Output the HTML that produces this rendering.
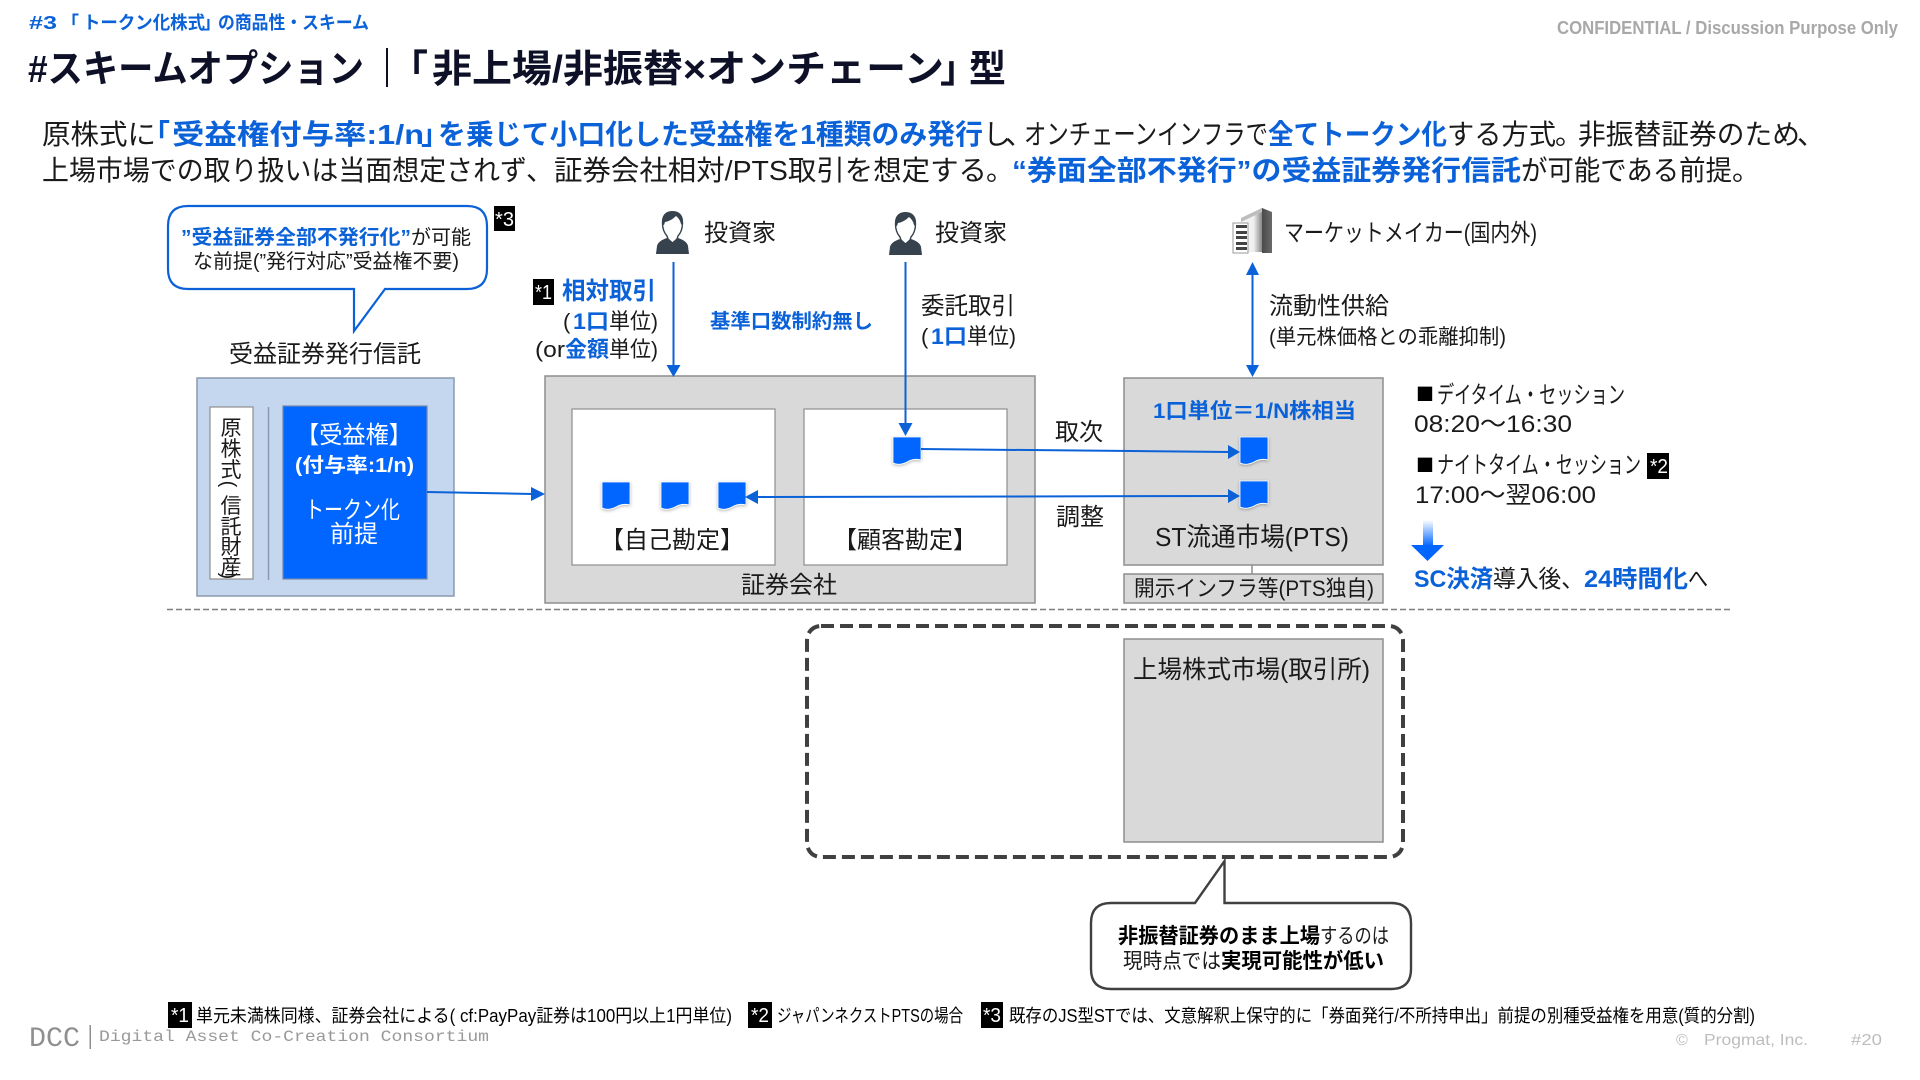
<!DOCTYPE html>
<html lang="ja"><head><meta charset="utf-8"><title>スキームオプション</title>
<style>
html,body{margin:0;padding:0;background:#fff;width:1920px;height:1080px;overflow:hidden}
svg{display:block}
text{font-family:"Liberation Sans","Noto Sans CJK JP",sans-serif;fill:#1a1a1a}
.b{font-weight:700;fill:#0b62d8}
.k{font-weight:700;fill:#000}
.t{font-weight:700;fill:#0d1026;font-size:38px}
.w{fill:#fff}
.n{fill:#fff;font-size:20px}
.q{font-family:"Noto Sans CJK JP",sans-serif;font-size:18px;fill:#000}
.box{fill:#d9d9d9;stroke:#8e8e8e;stroke-width:1.5}
.wb{fill:#fff;stroke:#8e8e8e;stroke-width:1.2}
.l{stroke:#0b62d8;stroke-width:2;fill:none}
.h{fill:#0b62d8}
</style></head><body>
<svg xmlns="http://www.w3.org/2000/svg" width="1920" height="1080" viewBox="0 0 1920 1080">
<defs>
<linearGradient id="ga" x1="0" y1="0" x2="0" y2="1"><stop offset="0" stop-color="#fff"/><stop offset="1" stop-color="#0066ff"/></linearGradient>
<linearGradient id="gb" x1="0" y1="0" x2="1" y2="0"><stop offset="0" stop-color="#f4f4f4"/><stop offset=".6" stop-color="#f0f0f0"/><stop offset="1" stop-color="#888"/></linearGradient>
<linearGradient id="gc" x1="0" y1="0" x2="1" y2="0"><stop offset="0" stop-color="#4a4a4a"/><stop offset="1" stop-color="#6a6a6a"/></linearGradient>
<filter id="sh" x="-30%" y="-30%" width="160%" height="160%"><feDropShadow dx="0" dy="1" stdDeviation="1.5" flood-color="#000" flood-opacity=".3"/></filter>
<symbol id="tk" viewBox="0 0 28 28" width="28" height="28" overflow="visible"><path d="M0 0H28V23Q21 21 14 25Q6 29 0 26Z" fill="#0066ff" stroke="#fff" stroke-width=".8" filter="url(#sh)"/></symbol>
<symbol id="pp" viewBox="0 0 33 44" width="33" height="44"><path d="M0 44L1 36Q2 31 11 28L16.500 33L22 28Q31 31 32 36L33 44Z" fill="#36424e"/><path d="M16.500 2Q6.500 2 6.500 13Q6.500 21 11 26L12 29L16.500 33L21 29L22 26Q26.500 21 26.500 13Q26.500 2 16.500 2Z" fill="#fff" stroke="#36424e" stroke-width="1.4"/><path d="M16.500 1Q6 1 6 13Q7 15 8 15L9 12Q15 11 20 6Q24 9 25 14L26 15Q27 14 27 13Q27 1 16.500 1Z" fill="#36424e"/></symbol>
</defs>

<text x="29" y="29" class="b" font-size="18" textLength="28" lengthAdjust="spacingAndGlyphs">#3</text>
<text x="61" y="29" class="b" font-size="18">「</text>
<text x="83" y="29" class="b" font-size="18" textLength="122" lengthAdjust="spacingAndGlyphs">トークン化株式</text>
<text x="203" y="29" class="b" font-size="18">」</text>
<text x="218" y="29" class="b" font-size="18" textLength="151" lengthAdjust="spacingAndGlyphs">の商品性・スキーム</text>
<text x="1557" y="34" font-size="18" style="fill:#a8a8a8;font-weight:700" textLength="341" lengthAdjust="spacingAndGlyphs">CONFIDENTIAL / Discussion Purpose Only</text>

<text x="28" y="82" class="t" textLength="336" lengthAdjust="spacingAndGlyphs">#スキームオプション</text>
<rect x="386" y="48" width="2" height="39" fill="#0d1026"/>
<text x="390" y="82" class="t">「</text>
<text x="432" y="82" class="t" textLength="512" lengthAdjust="spacingAndGlyphs">非上場/非振替×オンチェーン</text>
<text x="940" y="82" class="t">」</text>
<text x="969" y="82" class="t" textLength="37" lengthAdjust="spacingAndGlyphs">型</text>

<g font-size="28">
<text x="42" y="144" textLength="114" lengthAdjust="spacingAndGlyphs">原株式に</text>
<text x="142" y="144" class="b">「</text>
<text x="172" y="144" class="b" textLength="252" lengthAdjust="spacingAndGlyphs">受益権付与率:1/n</text>
<text x="421" y="144" class="b">」</text>
<text x="438" y="144" class="b" textLength="545" lengthAdjust="spacingAndGlyphs">を乗じて小口化した受益権を1種類のみ発行</text>
<text x="983" y="144">し</text>
<text x="1005" y="144">、</text>
<text x="1024" y="144" textLength="244" lengthAdjust="spacingAndGlyphs">オンチェーンインフラで</text>
<text x="1268" y="144" class="b" textLength="179" lengthAdjust="spacingAndGlyphs">全てトークン化</text>
<text x="1447" y="144" textLength="109" lengthAdjust="spacingAndGlyphs">する方式</text>
<text x="1555" y="144">。</text>
<text x="1578" y="144" textLength="222" lengthAdjust="spacingAndGlyphs">非振替証券のため</text>
<text x="1797" y="144">、</text>
<text x="42" y="180" textLength="485" lengthAdjust="spacingAndGlyphs">上場市場での取り扱いは当面想定されず</text>
<text x="526" y="180">、</text>
<text x="554" y="180" textLength="433" lengthAdjust="spacingAndGlyphs">証券会社相対/PTS取引を想定する</text>
<text x="986" y="180">。</text>
<text x="1012" y="180" class="b" textLength="509" lengthAdjust="spacingAndGlyphs">“券面全部不発行”の受益証券発行信託</text>
<text x="1521" y="180" textLength="211" lengthAdjust="spacingAndGlyphs">が可能である前提</text>
<text x="1732" y="180">。</text>
</g>

<!-- callout 1 -->
<path d="M188 206H467Q487 206 487 226V269Q487 289 467 289H385L354 331V289H188Q168 289 168 269V226Q168 206 188 206Z" fill="#fff" stroke="#0b62d8" stroke-width="2.2"/>
<text x="181" y="244" class="b" font-size="20" textLength="230" lengthAdjust="spacingAndGlyphs">”受益証券全部不発行化”</text>
<text x="411" y="244" font-size="20" textLength="60" lengthAdjust="spacingAndGlyphs">が可能</text>
<text x="193" y="268" font-size="20" textLength="266" lengthAdjust="spacingAndGlyphs">な前提(”発行対応”受益権不要)</text>
<rect x="494" y="206" width="21" height="25" fill="#000"/><text x="495" y="226" class="n" textLength="19" lengthAdjust="spacingAndGlyphs">*3</text>

<!-- persons -->
<use href="#pp" x="656" y="210"/><use href="#pp" x="889" y="211"/>
<text x="704" y="241" font-size="24">投資家</text>
<text x="935" y="241" font-size="24">投資家</text>
<!-- building -->
<path d="M1241 218L1262 208V252H1241Z" fill="url(#gb)"/>
<path d="M1241 218L1262 208V212L1241 222Z" fill="#bdbdbd"/>
<path d="M1262 208L1272 212V253H1262Z" fill="url(#gc)"/>
<rect x="1233" y="223" width="15" height="30" fill="#fff" stroke="#999" stroke-width="1"/>
<g fill="#444"><rect x="1236" y="225" width="11" height="3"/><rect x="1236" y="231" width="11" height="3"/><rect x="1236" y="236" width="11" height="3"/><rect x="1236" y="242" width="11" height="3"/><rect x="1236" y="247" width="11" height="3"/></g>
<text x="1284" y="241" font-size="24" textLength="253" lengthAdjust="spacingAndGlyphs">マーケットメイカー(国内外)</text>

<!-- labels upper -->
<rect x="533" y="279" width="21" height="26" fill="#000"/><text x="535" y="299" class="n" textLength="17" lengthAdjust="spacingAndGlyphs">*1</text>
<text x="562" y="299" class="b" font-size="24" textLength="94" lengthAdjust="spacingAndGlyphs">相対取引</text>
<text x="563" y="329" font-size="22">(</text><text x="573" y="329" class="b" font-size="22" textLength="36" lengthAdjust="spacingAndGlyphs">1口</text><text x="609" y="329" font-size="22" textLength="49" lengthAdjust="spacingAndGlyphs">単位)</text>
<text x="535" y="357" font-size="22" textLength="30" lengthAdjust="spacingAndGlyphs">(or</text><text x="565" y="357" class="b" font-size="22" textLength="44" lengthAdjust="spacingAndGlyphs">金額</text><text x="609" y="357" font-size="22" textLength="49" lengthAdjust="spacingAndGlyphs">単位)</text>
<text x="710" y="328" class="b" font-size="20" textLength="163" lengthAdjust="spacingAndGlyphs">基準口数制約無し</text>
<text x="921" y="314" font-size="24" textLength="94" lengthAdjust="spacingAndGlyphs">委託取引</text>
<text x="921" y="344" font-size="22">(</text><text x="931" y="344" class="b" font-size="22" textLength="36" lengthAdjust="spacingAndGlyphs">1口</text><text x="967" y="344" font-size="22" textLength="49" lengthAdjust="spacingAndGlyphs">単位)</text>
<text x="1269" y="314" font-size="24" textLength="120" lengthAdjust="spacingAndGlyphs">流動性供給</text>
<text x="1269" y="344" font-size="21" textLength="237" lengthAdjust="spacingAndGlyphs">(単元株価格との乖離抑制)</text>
<text x="229" y="362" font-size="24" textLength="192" lengthAdjust="spacingAndGlyphs">受益証券発行信託</text>

<!-- trust box -->
<rect x="197" y="378" width="257" height="218" fill="#c5d6ef" stroke="#8a99ad" stroke-width="1.5"/>
<rect x="210" y="407" width="43" height="172" fill="#fff" stroke="#8e8e8e" stroke-width="1.2"/>
<line x1="268.500" y1="407" x2="268.500" y2="580" stroke="#8a99ad" stroke-width="1.5"/>
<rect x="283" y="406" width="144" height="173" fill="#0066ff" stroke="#7288aa" stroke-width="1.2"/>
<g font-size="21" text-anchor="middle">
<text x="231" y="435">原</text><text x="231" y="456">株</text><text x="231" y="477">式</text>
<text transform="translate(222,484) rotate(90)" font-size="20" x="0" y="0">(</text>
<text x="231" y="513">信</text><text x="231" y="534">託</text><text x="231" y="554">財</text><text x="231" y="574">産</text>
<text transform="translate(222,576) rotate(90)" font-size="20" x="0" y="0">)</text>
</g>
<text x="296" y="443" class="w" font-size="24" textLength="116" lengthAdjust="spacingAndGlyphs">【受益権】</text>
<text x="295" y="472" class="w" style="font-weight:700" font-size="20" textLength="119" lengthAdjust="spacingAndGlyphs">(付与率:1/n)</text>
<text x="305" y="518" class="w" font-size="24" textLength="95" lengthAdjust="spacingAndGlyphs">トークン化</text>
<text x="330" y="542" class="w" font-size="24" textLength="48" lengthAdjust="spacingAndGlyphs">前提</text>

<!-- securities -->
<rect x="545" y="376" width="490" height="227" class="box"/>
<rect x="572" y="409" width="203" height="156" class="wb"/>
<rect x="804" y="409" width="203" height="156" class="wb"/>
<use href="#tk" x="602" y="482"/><use href="#tk" x="661" y="482"/><use href="#tk" x="718" y="482"/><use href="#tk" x="893" y="437"/>
<text x="600" y="548" font-size="24" textLength="144" lengthAdjust="spacingAndGlyphs">【自己勘定】</text>
<text x="833" y="548" font-size="24" textLength="144" lengthAdjust="spacingAndGlyphs">【顧客勘定】</text>
<text x="741" y="593" font-size="24" textLength="96" lengthAdjust="spacingAndGlyphs">証券会社</text>

<!-- PTS -->
<rect x="1124" y="378" width="259" height="187" class="box"/>
<line x1="1252" y1="565" x2="1252" y2="574" stroke="#8e8e8e" stroke-width="1.5"/>
<rect x="1124" y="574" width="259" height="29" class="box"/>
<text x="1153" y="418" class="b" font-size="21" textLength="203" lengthAdjust="spacingAndGlyphs">1口単位＝1/N株相当</text>
<use href="#tk" x="1240" y="437"/><use href="#tk" x="1240" y="481"/>
<text x="1155" y="546" font-size="26" textLength="194" lengthAdjust="spacingAndGlyphs">ST流通市場(PTS)</text>
<text x="1134" y="596" font-size="22" textLength="240" lengthAdjust="spacingAndGlyphs">開示インフラ等(PTS独自)</text>

<!-- connectors -->
<line x1="673.500" y1="262" x2="673.500" y2="366" class="l"/><path d="M666.500 365H680.500L673.500 377Z" class="h"/>
<line x1="905.500" y1="262" x2="905.500" y2="424" class="l"/><path d="M898.500 423H912.500L905.500 436Z" class="h"/>
<line x1="1252.500" y1="274" x2="1252.500" y2="366" class="l"/><path d="M1246 275H1259L1252.500 262Z" class="h"/><path d="M1246 365H1259L1252.500 377Z" class="h"/>
<line x1="427" y1="492" x2="532" y2="494" class="l"/><path d="M531 487V501L545 494Z" class="h"/>
<line x1="921" y1="449" x2="1228" y2="452" class="l"/><path d="M1228 445V459L1240 452Z" class="h"/>
<line x1="757" y1="497" x2="1228" y2="496" class="l"/><path d="M758 490V504L745 497Z" class="h"/><path d="M1228 489V503L1240 496Z" class="h"/>
<text x="1055" y="440" font-size="24">取次</text>
<text x="1056" y="525" font-size="24">調整</text>

<!-- right -->
<text x="1416" y="401" class="q">■</text>
<text x="1437" y="403" font-size="24" textLength="188" lengthAdjust="spacingAndGlyphs">デイタイム・セッション</text>
<text x="1414" y="432" font-size="24" textLength="158" lengthAdjust="spacingAndGlyphs">08:20～16:30</text>
<text x="1416" y="472" class="q">■</text>
<text x="1437" y="473" font-size="24" textLength="204" lengthAdjust="spacingAndGlyphs">ナイトタイム・セッション</text>
<rect x="1647" y="453" width="22" height="26" fill="#000"/><text x="1650" y="473" class="n" textLength="18" lengthAdjust="spacingAndGlyphs">*2</text>
<text x="1415" y="503" font-size="24" textLength="181" lengthAdjust="spacingAndGlyphs">17:00～翌06:00</text>
<rect x="1423" y="520" width="10" height="26" fill="url(#ga)"/><path d="M1411 545H1444L1427.500 561Z" fill="#0066ff"/>
<text x="1414" y="587" class="b" font-size="24" textLength="79" lengthAdjust="spacingAndGlyphs">SC決済</text>
<text x="1493" y="587" font-size="24" textLength="91" lengthAdjust="spacingAndGlyphs">導入後、</text>
<text x="1584" y="587" class="b" font-size="24" textLength="104" lengthAdjust="spacingAndGlyphs">24時間化</text>
<text x="1688" y="587" font-size="24" textLength="20" lengthAdjust="spacingAndGlyphs">へ</text>

<line x1="167" y1="609.500" x2="1733" y2="609.500" stroke="#7f7f7f" stroke-width="1.5" stroke-dasharray="6 3"/>

<!-- lower -->
<rect x="807" y="626" width="596" height="231" rx="14" fill="#fff" stroke="#404040" stroke-width="4" stroke-dasharray="13 6"/>
<rect x="1124" y="639" width="259" height="203" class="box"/>
<text x="1133" y="678" font-size="25" textLength="237" lengthAdjust="spacingAndGlyphs">上場株式市場(取引所)</text>
<path d="M1111 903H1195L1224.500 861V903H1391Q1411 903 1411 923V969Q1411 989 1391 989H1111Q1091 989 1091 969V923Q1091 903 1111 903Z" fill="#fff" stroke="#404040" stroke-width="2.4"/>
<text x="1118" y="943" class="k" font-size="21" textLength="202" lengthAdjust="spacingAndGlyphs">非振替証券のまま上場</text>
<text x="1320" y="943" font-size="21" textLength="69" lengthAdjust="spacingAndGlyphs">するのは</text>
<text x="1123" y="968" font-size="21" textLength="98" lengthAdjust="spacingAndGlyphs">現時点では</text>
<text x="1221" y="968" class="k" font-size="21" textLength="163" lengthAdjust="spacingAndGlyphs">実現可能性が低い</text>

<!-- footer -->
<rect x="168" y="1002" width="24" height="26" fill="#000"/><text x="171" y="1022" class="n" textLength="18" lengthAdjust="spacingAndGlyphs">*1</text>
<text x="196" y="1022" font-size="18" style="fill:#000" textLength="536" lengthAdjust="spacingAndGlyphs">単元未満株同様、証券会社による( cf:PayPay証券は100円以上1円単位)</text>
<rect x="748" y="1002" width="24" height="26" fill="#000"/><text x="751" y="1022" class="n" textLength="18" lengthAdjust="spacingAndGlyphs">*2</text>
<text x="777" y="1022" font-size="18" style="fill:#000" textLength="186" lengthAdjust="spacingAndGlyphs">ジャパンネクストPTSの場合</text>
<rect x="981" y="1002" width="22" height="26" fill="#000"/><text x="983" y="1022" class="n" textLength="18" lengthAdjust="spacingAndGlyphs">*3</text>
<text x="1009" y="1022" font-size="18" style="fill:#000" textLength="746" lengthAdjust="spacingAndGlyphs">既存のJS型STでは、文意解釈上保守的に「券面発行/不所持申出」前提の別種受益権を用意(質的分割)</text>

<text x="29" y="1046" font-size="28" style="font-family:'Liberation Mono',monospace;fill:#8f8f8f" textLength="51" lengthAdjust="spacingAndGlyphs">DCC</text>
<rect x="89.500" y="1025" width="1.500" height="24" fill="#8f8f8f"/>
<text x="99" y="1041" font-size="16" style="font-family:'Liberation Mono',monospace;fill:#999" textLength="390" lengthAdjust="spacingAndGlyphs">Digital Asset Co-Creation Consortium</text>
<text x="1676" y="1045" font-size="16" style="fill:#bdbdbd">©</text>
<text x="1704" y="1045" font-size="16" style="fill:#bdbdbd" textLength="104" lengthAdjust="spacingAndGlyphs">Progmat, Inc.</text>
<text x="1851" y="1045" font-size="16" style="fill:#bdbdbd" textLength="31" lengthAdjust="spacingAndGlyphs">#20</text>
</svg>
</body></html>
